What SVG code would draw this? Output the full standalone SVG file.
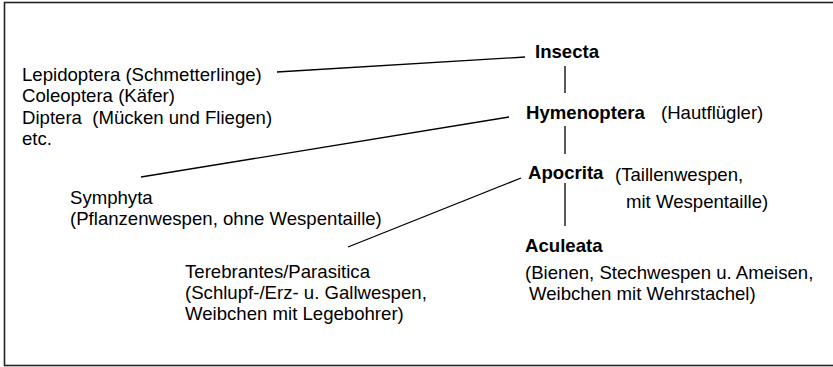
<svg xmlns="http://www.w3.org/2000/svg" width="833" height="367" viewBox="0 0 833 367">
<style>
text{font-family:"Liberation Sans",Arial,Helvetica,sans-serif;font-size:18.6px;fill:#000;white-space:pre}
.b{font-weight:bold}
.ln{stroke:#000;stroke-width:1.3;fill:none}
</style>
<rect x="0" y="0" width="833" height="367" fill="#fff"/>
<rect x="4.5" y="2.5" width="840" height="363" fill="none" stroke="#222" stroke-width="1.6"/>
<g id="connectors">
<line class="ln" x1="277" y1="72" x2="525" y2="57"/>
<line class="ln" x1="565" y1="66" x2="565" y2="93"/>
<line class="ln" x1="141" y1="177" x2="509" y2="117"/>
<line class="ln" x1="565" y1="126" x2="565" y2="154"/>
<line class="ln" x1="348" y1="247" x2="521" y2="178"/>
<line class="ln" x1="565" y1="183" x2="565" y2="226"/>
</g>
<g id="others">
<text x="22" y="81">Lepidoptera (Schmetterlinge)</text>
<text x="22" y="102">Coleoptera (Käfer)</text>
<text x="22" y="124" xml:space="preserve">Diptera  (Mücken und Fliegen)</text>
<text x="22" y="145">etc.</text>
</g>
<g id="insecta"><text class="b" x="535" y="58">Insecta</text></g>
<g id="hymenoptera"><text class="b" x="526" y="119">Hymenoptera</text><text x="661" y="119">(Hautflügler)</text></g>
<g id="apocrita"><text class="b" x="528" y="179">Apocrita</text><text x="615" y="181">(Taillenwespen,</text><text x="626" y="208">mit Wespentaille)</text></g>
<g id="aculeata"><text class="b" x="525" y="252">Aculeata</text><text x="525" y="279">(Bienen, Stechwespen u. Ameisen,</text><text x="529" y="300">Weibchen mit Wehrstachel)</text></g>
<g id="symphyta"><text x="70" y="204">Symphyta</text><text x="70" y="225">(Pflanzenwespen, ohne Wespentaille)</text></g>
<g id="terebrantes"><text x="185" y="278">Terebrantes/Parasitica</text><text x="185" y="299">(Schlupf-/Erz- u. Gallwespen,</text><text x="185" y="320">Weibchen mit Legebohrer)</text></g>
</svg>
